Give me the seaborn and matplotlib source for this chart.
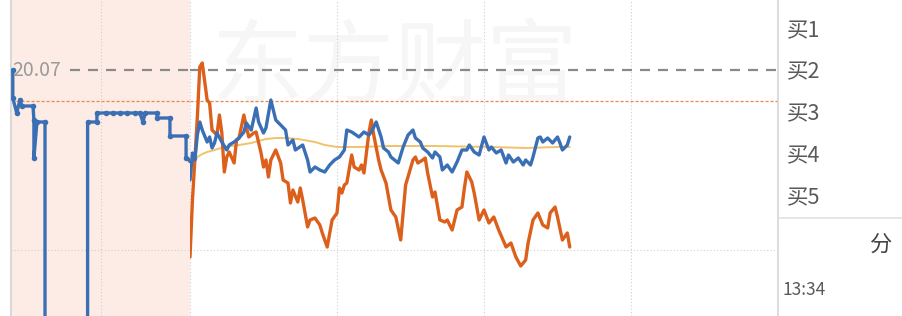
import matplotlib
matplotlib.use("Agg")
import matplotlib.pyplot as plt
from matplotlib.lines import Line2D
import seaborn as sns

sns.set_theme(style="white")
plt.rcParams['font.family'] = ['Noto Sans CJK SC', 'DejaVu Sans']

# ---------------- data ----------------
# call-auction segment (minutes after 9:15), matched price
auction_min = [0.1, 0.1, 0.32, 0.5, 0.61, 1.23, 1.28, 1.28, 1.45, 1.9, 1.9,
               4.28, 4.28, 4.8, 4.8, 5.3, 5.7, 6.1, 6.5, 6.9, 7.2, 7.37, 7.5,
               8.16, 8.16, 8.88, 8.88, 9.78, 9.78, 10.0]
auction_price = [20.07, 20.014, 19.984, 20.01, 19.998, 19.998, 19.97, 19.894,
                 19.966, 19.966, 19.40, 19.40, 19.966, 19.966, 19.984, 19.984,
                 19.984, 19.984, 19.984, 19.984, 19.984, 19.966, 19.984,
                 19.984, 19.974, 19.974, 19.938, 19.938, 19.894, 19.89]

# continuous session (minutes after 9:30)
price_min = [0, 1, 2, 3, 4, 5, 7, 8, 9, 10, 11, 13, 15, 16, 18, 20, 22, 23, 25,
             27, 28, 30, 31, 33, 35, 37, 39, 40, 42, 43, 46, 48, 49, 51, 53, 55,
             57, 59, 61, 63, 64, 66, 69, 71, 73, 74, 76, 78, 79, 81, 82, 85, 87,
             89, 91, 92, 94, 95, 97, 99, 100, 102, 103, 105, 107, 109, 111, 113,
             114, 116, 118, 120, 122, 123, 125, 127, 129, 130, 132, 134, 136,
             137, 139, 140, 142, 143, 144, 146, 148, 150, 151, 152, 154, 155]
price = [19.85, 19.904, 19.89, 19.94, 19.966, 19.95, 19.926, 19.936, 19.914,
         19.924, 19.944, 19.926, 19.91, 19.92, 19.926, 19.934, 19.946, 19.964,
         19.95, 19.994, 19.966, 19.944, 19.954, 20.01, 19.97, 19.96, 19.95,
         19.92, 19.93, 19.91, 19.92, 19.89, 19.866, 19.876, 19.87, 19.866,
         19.88, 19.89, 19.896, 19.91, 19.95, 19.946, 19.936, 19.946, 19.94,
         19.946, 19.966, 19.936, 19.914, 19.906, 19.896, 19.884, 19.916, 19.94,
         19.95, 19.934, 19.926, 19.914, 19.906, 19.894, 19.906, 19.896, 19.87,
         19.88, 19.866, 19.886, 19.91, 19.91, 19.92, 19.906, 19.90, 19.936,
         19.91, 19.916, 19.904, 19.91, 19.884, 19.90, 19.886, 19.894, 19.88,
         19.89, 19.88, 19.896, 19.934, 19.936, 19.926, 19.934, 19.924, 19.936,
         19.924, 19.91, 19.92, 19.936]

orange_min = [0, 1, 3, 4, 5, 7, 8, 9, 11, 12, 13, 14, 15, 16, 18, 19, 20, 22,
              23, 24, 26, 27, 29, 30, 31, 32, 33, 35, 37, 38, 40, 41, 42, 44,
              45, 46, 48, 49, 51, 53, 54, 56, 58, 60, 61, 62, 63, 64, 66, 67,
              69, 70, 71, 73, 74, 75, 77, 78, 80, 82, 84, 86, 88, 91, 92, 93,
              95, 96, 97, 99, 100, 102, 104, 105, 107, 109, 111, 112, 113, 115,
              116, 118, 120, 122, 124, 126, 129, 131, 133, 135, 137, 138, 140,
              142, 144, 146, 147, 149, 150, 152, 154, 155]
orange = [19.696, 19.81, 19.976, 20.076, 20.084, 20.01, 20.004, 19.95, 19.94,
          19.98, 19.944, 19.866, 19.896, 19.906, 19.884, 19.93, 19.934, 19.98,
          19.956, 19.936, 19.944, 19.946, 19.904, 19.876, 19.89, 19.856, 19.89,
          19.91, 19.884, 19.85, 19.844, 19.804, 19.83, 19.806, 19.834, 19.81,
          19.756, 19.77, 19.774, 19.76, 19.744, 19.716, 19.77, 19.784, 19.834,
          19.824, 19.84, 19.844, 19.90, 19.876, 19.87, 19.88, 19.864, 19.944,
          19.97, 19.94, 19.89, 19.87, 19.844, 19.79, 19.776, 19.73, 19.84,
          19.89, 19.896, 19.884, 19.89, 19.894, 19.864, 19.816, 19.826, 19.77,
          19.766, 19.77, 19.75, 19.79, 19.796, 19.834, 19.866, 19.846, 19.824,
          19.77, 19.79, 19.764, 19.776, 19.75, 19.716, 19.724, 19.696, 19.678,
          19.69, 19.724, 19.77, 19.784, 19.76, 19.754, 19.784, 19.796, 19.776,
          19.73, 19.744, 19.716]

avg_min = [0, 1, 2, 3, 5, 7, 10, 14, 20, 25, 31, 35, 39, 44, 51, 55, 60, 69,
           81, 100, 123, 137, 150, 155]
avg_price = [19.85, 19.87, 19.886, 19.896, 19.902, 19.906, 19.91, 19.916,
             19.92, 19.924, 19.932, 19.934, 19.934, 19.932, 19.926, 19.92,
             19.916, 19.916, 19.918, 19.918, 19.916, 19.914, 19.916, 19.916]

ref_high = 20.07
prev_close = 20.008
grid_price = 19.71
buy_labels = ["买1", "买2", "买3", "买4", "买5"]
time_label = "13:34"
tab_label = "分"
watermark = "东方财富"

# ---------------- figure ----------------
W, H = 902, 316
fig = plt.figure(figsize=(W / 100, H / 100), dpi=100)
fig.patch.set_facecolor("white")

ylim = (19.578, 20.21)
ax_a = fig.add_axes([11 / W, 0, 179 / W, 1])
ax_m = fig.add_axes([190 / W, 0, 588 / W, 1])

for ax in (ax_a, ax_m):
    ax.set_xticks([])
    ax.set_yticks([])
    for s in ax.spines.values():
        s.set_visible(False)

ax_a.set_facecolor("#fcece5")
ax_m.set_facecolor("white")

ax_a.spines['left'].set_visible(True)
ax_a.spines['left'].set_color("#d9d9d9")
ax_a.spines['left'].set_linewidth(1.5)
ax_m.spines['right'].set_visible(True)
ax_m.spines['right'].set_color("#d6d6d6")
ax_m.spines['right'].set_linewidth(1.2)

grid_kw = dict(color="#cfcfcf", lw=0.8, ls=(0, (1, 2)), zorder=1)
ax_a.axvline(5, **grid_kw)
for m in (0, 60, 120, 180):
    ax_m.axvline(m, **grid_kw)
ax_a.axhline(grid_price, **grid_kw)
ax_m.axhline(grid_price, **grid_kw)

# reference lines
dash_kw = dict(color="#8a8a8a", lw=1.6, ls=(0, (4.5, 3.6)), zorder=1.5)
ax_a.axhline(ref_high, xmin=(70 - 11) / 179, **dash_kw)
ax_m.axhline(ref_high, **dash_kw)
pc_kw = dict(color="#e58a55", lw=0.9, ls=(0, (2.5, 1.5)), zorder=1.5)
ax_a.axhline(prev_close, **pc_kw)
ax_m.axhline(prev_close, **pc_kw)

# watermark
ax_m.text(395 / W, 1 - 70 / H, watermark, transform=fig.transFigure,
          fontsize=66, color="#f6f6f6", ha="center", va="center",
          fontweight="medium", zorder=0.5)

# series
blue = "#3a6fb5"
sns.lineplot(x=auction_min, y=auction_price, ax=ax_a, sort=False,
             estimator=None, color=blue, lw=2.4, marker="o", markersize=4,
             markeredgewidth=0, zorder=3)
sns.lineplot(x=avg_min, y=avg_price, ax=ax_m, sort=False, estimator=None,
             color="#f0c36a", lw=1.4, zorder=2)
sns.lineplot(x=orange_min, y=orange, ax=ax_m, sort=False, estimator=None,
             color="#dc5f1c", lw=2.4, zorder=3)
sns.lineplot(x=price_min, y=price, ax=ax_m, sort=False, estimator=None,
             color=blue, lw=2.4, zorder=4)

for ax in (ax_a, ax_m):
    ax.set_ylim(*ylim)
    ax.set_xlabel("")
    ax.set_ylabel("")
ax_a.set_xlim(0, 10)
ax_m.set_xlim(0, 240)

# price label
ax_a.text(12 / W, 1 - 71 / H, f"{ref_high:.2f}", transform=fig.transFigure,
          fontsize=14, color="#9a9a9a", ha="left", va="center",
          fontweight="light", zorder=5)

# right panel
for i, lab in enumerate(buy_labels):
    yp = [31, 72, 114, 156, 198][i]
    fig.text(787 / W, 1 - yp / H, lab, fontsize=15.5, color="#5a5a5a",
             ha="left", va="center", fontweight="light")
fig.add_artist(Line2D([779 / W, 1], [1 - 218 / H] * 2, color="#e2e2e2", lw=1.2))
fig.text(870 / W, 1 - 244 / H, tab_label, fontsize=16, color="#444444",
         ha="left", va="center", fontweight="light")
fig.text(783 / W, 1 - 290 / H, time_label, fontsize=12.5, color="#5a5a5a",
         ha="left", va="center", fontweight="light")

fig.savefig("out.png", dpi=100)
